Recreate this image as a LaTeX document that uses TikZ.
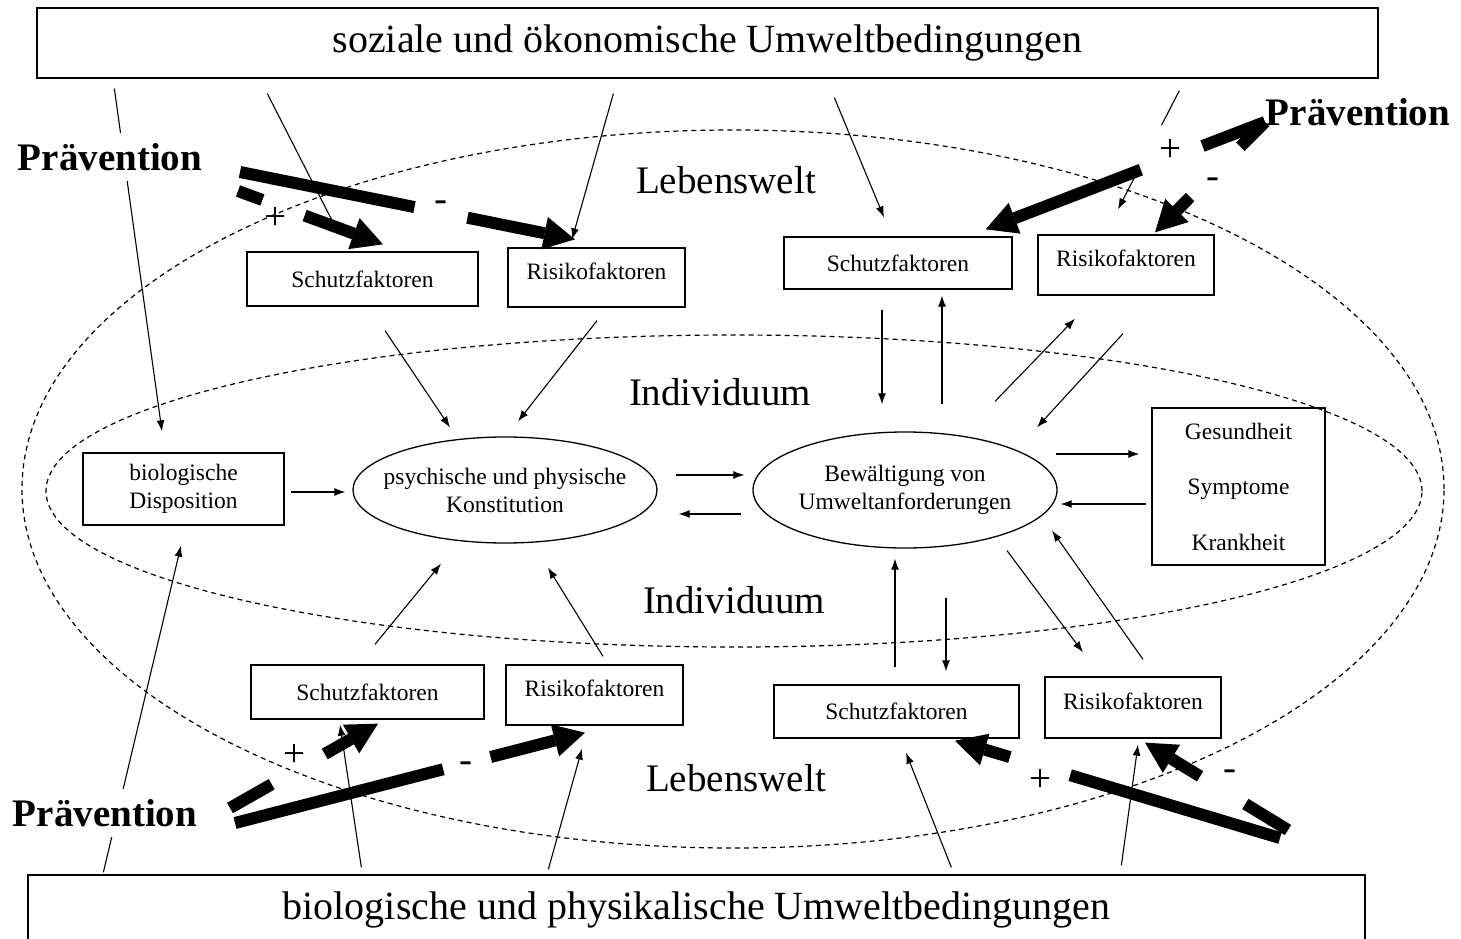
\documentclass[tikz,border=0pt]{standalone}
\usepackage{fontspec}
\setmainfont{Liberation Serif}
\usetikzlibrary{arrows.meta,shapes.geometric,calc}
\newcommand\bigf{\fontsize{39}{44}\selectfont}
\newcommand\boxf{\fontsize{40}{44}\selectfont}
\newcommand\smf{\fontsize{23.5}{28}\selectfont}
\newcommand\upt[1]{\raisebox{0pt}[\height][\dimexpr\depth+13pt\relax]{#1}}
\begin{document}
\begin{tikzpicture}[x=1pt,y=-1pt,
  box/.style={draw, line width=1.3pt, inner sep=0pt, font=\smf, align=center},
  ell/.style={ellipse, draw, line width=1.3pt, inner sep=0pt, font=\smf, align=center},
  big/.style={font=\bigf, inner sep=1pt},
  prevl/.style={font=\bfseries\bigf, fill=white, inner xsep=3pt, inner ysep=10pt},
  ar/.style={line width=1.1pt, -{Latex[length=11pt,width=8pt]}},
  ln/.style={line width=1.1pt},
  prev/.style={line width=12pt, -{Triangle[length=31pt,width=33pt,line width=0pt]}},
  lwdash/.style={line width=1.2pt, dash pattern=on 5pt off 4pt},
  pm/.style={font=\bigf, inner sep=0pt}]
\clip (0,0) rectangle (1461,939);
% dashed ellipses
\draw[lwdash] (733,489) ellipse [x radius=711pt, y radius=359pt];
\draw[lwdash] (734,491) ellipse [x radius=688pt, y radius=156pt];
% environment boxes
\node[box, font=\boxf, minimum width=1341pt, minimum height=70pt] (TB) at (707.5,43) {soziale und ökonomische Umweltbedingungen};
\node[box, font=\boxf, minimum width=1337pt, minimum height=70pt] (BB) at (696.5,910) {biologische und physikalische Umweltbedingungen};
% region labels
\node[big] (LW1) at (726,180) {Lebenswelt};
\node[big] (IN1) at (720,392) {Individuum};
\node[big] (IN2) at (734,600) {Individuum};
\node[big] (LW2) at (736,778) {Lebenswelt};
% factor boxes
\node[box, minimum width=231pt, minimum height=54pt] (TLS) at (362.5,279) {Schutzfaktoren};
\node[box, minimum width=177pt, minimum height=59pt] (TLR) at (596.5,277.5) {\upt{Risikofaktoren}};
\node[box, minimum width=228pt, minimum height=52pt] (TRS) at (898,263) {Schutzfaktoren};
\node[box, minimum width=176pt, minimum height=60pt] (TRR) at (1126,265) {\upt{Risikofaktoren}};
\node[box, minimum width=233pt, minimum height=54pt] (BLS) at (367.5,692) {Schutzfaktoren};
\node[box, minimum width=177pt, minimum height=60pt] (BLR) at (594.5,695) {\upt{Risikofaktoren}};
\node[box, minimum width=245pt, minimum height=53pt] (BRS) at (896.5,711.5) {Schutzfaktoren};
\node[box, minimum width=176pt, minimum height=61pt] (BRR) at (1133,707.5) {\upt{Risikofaktoren}};
\node[box, minimum width=201pt, minimum height=72pt] (Disp) at (183.5,489) {biologische\\Disposition};
\node[ell, inner xsep=-15pt, minimum width=304pt, minimum height=106pt] (psy) at (505,490) {psychische und physische\\Konstitution};
\node[ell, inner xsep=-2pt, minimum width=304pt, minimum height=116pt] (bew) at (905,490) {Bewältigung von\\Umweltanforderungen};
\node[box, minimum width=173pt, minimum height=157pt] (Ges) at (1238.5,486.5) {Gesundheit\\[27.5pt]Symptome\\[27.5pt]Krankheit};
% thin arrows from the top box
\draw[ar] ($(TB.south west)+(78,10)$) -- ($(Disp.north)+(-21.5,-21)$);
\draw[ln] ($(TB.south west)+(231,15)$) -- ($(TLS.north)+(-30,-30)$);
\draw[ar] ($(TB.south west)+(577,15)$) -- ($(TLR.north)+(-24.5,-8)$);
\draw[ar] ($(TB.south west)+(798,19)$) -- ($(TRS.north)+(-14,-19)$);
\draw[ar, dash pattern=on 39pt off 50pt on 200pt off 1pt] ($(TB.south west)+(1143,12)$) -- ($(TRR.north)+(-8,-25)$);
% thin arrows from the bottom box
\draw[ar] ($(BB.north west)+(76,-2)$) -- ($(Disp.south)+(-2.5,20)$);
\draw[ar] ($(BB.north west)+(334,-7)$) -- ($(BLS.south)+(-27.5,5)$);
\draw[ar] ($(BB.north west)+(521,-5)$) -- ($(BLR.south)+(-12.5,23)$);
\draw[ar] ($(BB.north west)+(924,-7)$) -- ($(BRS.south)+(9.5,14)$);
\draw[ar] ($(BB.north west)+(1094,-9)$) -- ($(BRR.south)+(5,6)$);
% inner arrows
\draw[ar] ($(TLS.south)+(22.5,24)$) -- ($(psy.north)+(-55,-9)$);
\draw[ar] ($(TLR.south)+(0.5,13)$) -- ($(psy.north)+(13,-15)$);
\draw[ar] ($(BLS.north)+(7.5,-20)$) -- ($(psy.south)+(-64,20)$);
\draw[ar] ($(BLR.north)+(8.5,-8)$) -- ($(psy.south)+(43,24)$);
\draw[ar] ($(Disp.east)+(6,3)$) -- ($(psy.west)+(-7,2)$);
\draw[ar] ($(psy.east)+(18,-15)$) -- ($(bew.west)+(-8,-15)$);
\draw[ar] ($(bew.west)+(-11,24)$) -- ($(psy.east)+(21,24)$);
\draw[ar] ($(TRS.south)+(-16,20)$) -- ($(bew.north)+(-23,-27)$);
\draw[ar] ($(bew.north)+(37,-27)$) -- ($(TRS.south)+(44,6)$);
\draw[ar] ($(bew.north)+(90,-30)$) -- ($(TRR.south)+(-51,23)$);
\draw[ar] ($(TRR.south)+(-3,38)$) -- ($(bew.north)+(132,-4)$);
\draw[ar] ($(bew.east)+(-2,-36)$) -- ($(Ges.west)+(-12,-32.5)$);
\draw[ar] ($(Ges.west)+(-5,17.5)$) -- ($(bew.east)+(3,14)$);
\draw[ar] ($(BRS.north)+(-1.5,-17)$) -- ($(bew.south)+(-10,10)$);
\draw[ar] ($(bew.south)+(41,49)$) -- ($(BRS.north)+(49.5,-13)$);
\draw[ar] ($(bew.south)+(102,2)$) -- ($(BRR.north)+(-50,-24)$);
\draw[ar] ($(BRR.north)+(10,-17)$) -- ($(bew.south)+(147,-18)$);
% Prävention labels
\node[prevl] (PTL) at (110,157) {Prävention};
\node[prevl] (PTR) at (1358,112) {Prävention};
\node[prevl] (PBL) at (105,813) {Prävention};
% start points of the prevention arrows
\coordinate (s1) at (240,172);
\coordinate (s2) at (238,191);
\coordinate (s3) at (1265,122);
\coordinate (s5) at (230,808);
\coordinate (s6) at (235,823);
\coordinate (s7) at (1280,838);
\coordinate (s8) at (1288,830);
% thick prevention arrows
\draw[prev, dash pattern=on 178pt off 54pt on 1000pt off 1pt] (s1) -- ($(TLR.north)+(-21.5,-8)$);
\draw[prev, dash pattern=on 26pt off 45pt on 1000pt off 1pt] (s2) -- ($(TLS.north)+(20.5,-7)$);
\draw[prev, dash pattern=on 67pt off 66pt on 1000pt off 1pt] (s3) -- ($(TRS.north east)+(-27,-7)$);
\draw[prev, dash pattern=on 35pt off 71pt on 1000pt off 1pt] (s3) -- ($(TRR.north)+(29,-2)$);
\draw[prev, dash pattern=on 48pt off 61pt on 1000pt off 1pt] (s5) -- ($(BLS.south)+(10.5,4)$);
\draw[prev, dash pattern=on 215pt off 49pt on 1000pt off 1pt] (s6) -- ($(BLR.south)+(-9.5,7)$);
\draw[prev, dash pattern=on 219pt off 63pt on 1000pt off 1pt] (s7) -- ($(BRS.south)+(58.5,2)$);
\draw[prev, dash pattern=on 50pt off 53pt on 1000pt off 1pt] (s8) -- ($(BRR.south)+(12,4)$);
% signs
\node[pm] (m1) at (441,206) {-};
\node[pm] (p1) at (275,218) {+};
\node[pm] (p2) at (1170,150) {+};
\node[pm] (m2) at (1213,183) {-};
\node[pm] (p3) at (294,755) {+};
\node[pm] (m3) at (466,767) {-};
\node[pm] (p4) at (1040,780) {+};
\node[pm] (m4) at (1230,775) {-};
\end{tikzpicture}
\end{document}
